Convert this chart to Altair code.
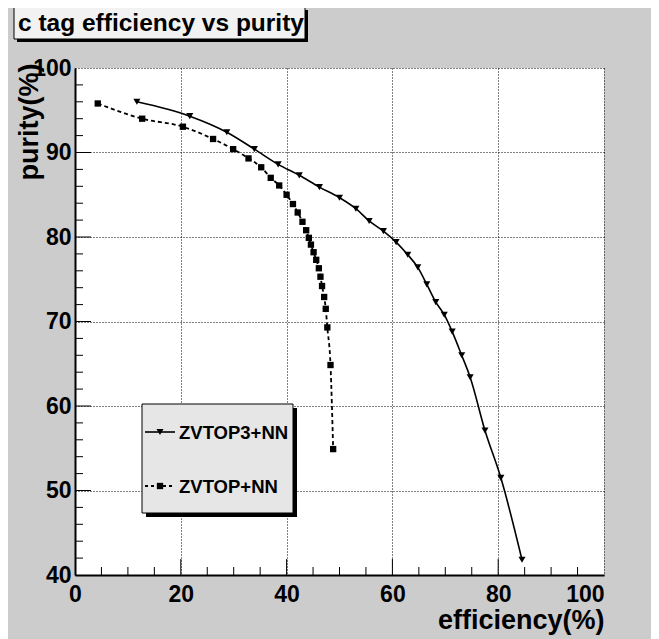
import altair as alt
import pandas as pd

# ---------------- data ----------------
title_text = "c tag efficiency vs purity"
series_names = ["ZVTOP3+NN", "ZVTOP+NN"]

zv3_eff = [11.7, 21.7, 28.7, 33.9, 38.4, 42.4, 46.2, 50.0, 53.1, 55.6, 58.3, 60.7,
           62.9, 64.8, 66.5, 68.2, 69.8, 71.3, 73.1, 74.7, 77.5, 80.5, 84.5]
zv3_pur = [96.0, 94.3, 92.4, 90.4, 88.6, 87.3, 85.9, 84.65, 83.35, 81.9, 80.7, 79.4,
           77.9, 76.4, 74.4, 72.3, 70.8, 68.8, 66.0, 63.4, 57.1, 51.5, 41.8]

zv_eff = [4.3, 12.7, 20.4, 26.1, 29.9, 32.8, 35.2, 37.0, 38.6, 40.0, 41.2, 42.1, 43.0,
          43.7, 44.2, 44.6, 45.1, 45.6, 46.1, 46.4, 46.7, 47.1, 47.4, 47.7, 48.3, 48.8]
zv_pur = [95.8, 94.0, 93.05, 91.6, 90.4, 89.3, 88.25, 87.0, 86.1, 85.0, 83.9, 82.9, 81.8,
          80.8, 79.9, 79.1, 78.2, 77.3, 76.3, 75.3, 74.2, 72.9, 71.5, 69.3, 64.85, 54.9]

x_labels = [0, 20, 40, 60, 80, 100]
y_labels = [40, 50, 60, 70, 80, 90, 100]
x_major_inner = [20, 40, 60, 80]
x_minor = [5, 10, 15, 25, 30, 35, 45, 50, 55, 65, 70, 75, 85, 90, 95]
y_major_inner = [50, 60, 70, 80, 90]
y_minor = [42, 44, 46, 48, 52, 54, 56, 58, 62, 64, 66, 68, 72, 74, 76, 78,
           82, 84, 86, 88, 92, 94, 96, 98]

# ---------------- layout / style ----------------
W, H = 529, 507
FONT = "Liberation Sans"

df3 = pd.DataFrame({"eff": zv3_eff, "pur": zv3_pur})
df1 = pd.DataFrame({"eff": zv_eff, "pur": zv_pur})
one = pd.DataFrame({"k": [0]})

xscale = alt.Scale(domain=[0, 100], nice=False, zero=False)
yscale = alt.Scale(domain=[40, 100], nice=False, zero=False)

common_axis = dict(
    ticks=False, grid=True, gridDash=[1, 2], gridColor="black", gridOpacity=1,
    gridWidth=1, domainColor="black", domainWidth=2, labelFont=FONT,
    labelFontWeight="bold", labelColor="black", titleFont=FONT,
    titleFontWeight="bold", titleColor="black",
)

xaxis = alt.Axis(
    values=x_labels, format="d", labelFontSize=23, labelPadding=8,
    labelFlush=False,
    labelAlign={"condition": {"test": "datum.value == 100", "value": "right"}, "value": "center"},
    title="efficiency(%)", titleFontSize=27, titleAnchor="end", titleAlign="right",
    titleX=W, titleY=53, titleBaseline="alphabetic", **common_axis,
)
yaxis = alt.Axis(
    values=y_labels, format="d", labelFontSize=23, labelPadding=4,
    title="purity(%)", titleFontSize=27, titleAngle=-90, titleAlign="right",
    titleBaseline="middle", titleX=-46, titleY=-5, **common_axis,
)

X = lambda f: alt.X(f, scale=xscale, axis=xaxis)
Y = lambda f: alt.Y(f, scale=yscale, axis=yaxis)

line3 = alt.Chart(df3).mark_line(color="black", strokeWidth=1.6, interpolate="monotone").encode(
    x=X("eff:Q"), y=Y("pur:Q"))
pts3 = alt.Chart(df3).mark_point(shape="triangle-down", filled=True, size=50,
                                 color="black", opacity=1).encode(x=X("eff:Q"), y=Y("pur:Q"))
line1 = alt.Chart(df1).mark_line(color="black", strokeWidth=1.8, strokeDash=[4, 3],
                                 interpolate="monotone").encode(x=X("eff:Q"), y=Y("pur:Q"))
pts1 = alt.Chart(df1).mark_square(size=40, color="black", opacity=1).encode(
    x=X("eff:Q"), y=Y("pur:Q"))

# inner ticks
xmaj = alt.Chart(pd.DataFrame({"v": x_major_inner})).mark_rule(color="black", strokeWidth=1).encode(
    x=X("v:Q"), y=alt.value(H), y2=alt.value(H - 16))
xmin = alt.Chart(pd.DataFrame({"v": x_minor})).mark_rule(color="black", strokeWidth=1).encode(
    x=X("v:Q"), y=alt.value(H), y2=alt.value(H - 8))
ymaj = alt.Chart(pd.DataFrame({"v": y_major_inner})).mark_rule(color="black", strokeWidth=1).encode(
    y=Y("v:Q"), x=alt.value(0), x2=alt.value(16))
ymin = alt.Chart(pd.DataFrame({"v": y_minor})).mark_rule(color="black", strokeWidth=1).encode(
    y=Y("v:Q"), x=alt.value(0), x2=alt.value(8))

# title box
tb_shadow = alt.Chart(one).mark_rect(color="black").encode(
    x=alt.value(-58), x2=alt.value(233), y=alt.value(-58), y2=alt.value(-26))
tb_box = alt.Chart(one).mark_rect(fill="#f2f2f2", stroke="black", strokeWidth=1).encode(
    x=alt.value(-61), x2=alt.value(230), y=alt.value(-61), y2=alt.value(-29))
tb_text = alt.Chart(one).mark_text(text=title_text, font=FONT, fontWeight="bold", fontSize=24.5,
                                   align="left", baseline="middle", color="black").encode(
    x=alt.value(-57), y=alt.value(-44))

# legend
lg_shadow = alt.Chart(one).mark_rect(color="black").encode(
    x=alt.value(71), x2=alt.value(222), y=alt.value(340), y2=alt.value(449))
lg_box = alt.Chart(one).mark_rect(fill="#e6e6e6", stroke="black", strokeWidth=1).encode(
    x=alt.value(67), x2=alt.value(218), y=alt.value(336), y2=alt.value(445))
lg_l1 = alt.Chart(one).mark_rule(color="black", strokeWidth=1.6).encode(
    x=alt.value(70), x2=alt.value(100), y=alt.value(364))
lg_p1 = alt.Chart(one).mark_point(shape="triangle-down", filled=True, size=50, color="black",
                                  opacity=1).encode(x=alt.value(85), y=alt.value(364))
lg_t1 = alt.Chart(one).mark_text(text=series_names[0], font=FONT, fontWeight="bold", fontSize=18.5,
                                 align="left", baseline="middle", color="black").encode(
    x=alt.value(104), y=alt.value(365))
lg_l2 = alt.Chart(one).mark_rule(color="black", strokeWidth=1.8, strokeDash=[3, 3]).encode(
    x=alt.value(70), x2=alt.value(100), y=alt.value(418))
lg_p2 = alt.Chart(one).mark_square(size=40, color="black", opacity=1).encode(
    x=alt.value(85), y=alt.value(418))
lg_t2 = alt.Chart(one).mark_text(text=series_names[1], font=FONT, fontWeight="bold", fontSize=18.5,
                                 align="left", baseline="middle", color="black").encode(
    x=alt.value(104), y=alt.value(419))

chart = alt.layer(
    xmin, xmaj, ymin, ymaj, line1, pts1, line3, pts3,
    lg_shadow, lg_box, lg_l1, lg_p1, lg_t1, lg_l2, lg_p2, lg_t2,
    tb_shadow, tb_box, tb_text,
).properties(
    width=W, height=H,
    autosize=alt.AutoSizeParams(type="none"),
    padding={"left": 67, "top": 60, "right": 47, "bottom": 64},
    background="#cccccc",
).configure_view(stroke=None, fill="white")

chart.save("out.html", embed_options={"renderer": "svg", "actions": False})
